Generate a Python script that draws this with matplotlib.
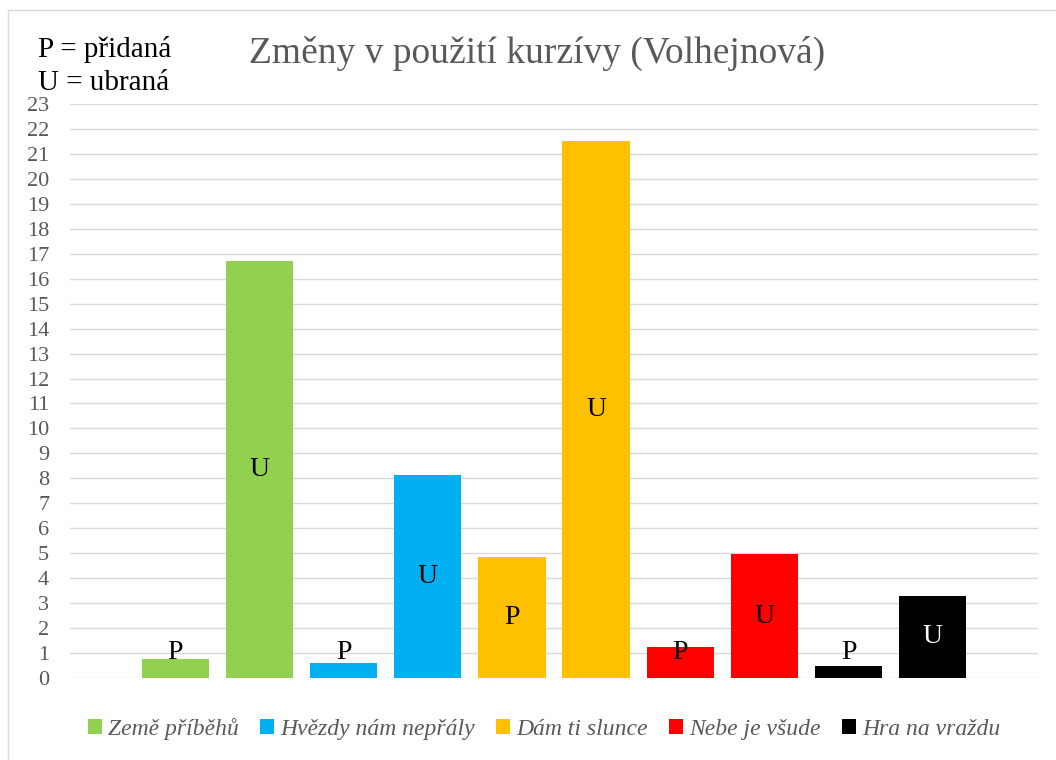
import matplotlib
matplotlib.use("Agg")
import matplotlib.pyplot as plt
from matplotlib.patches import Rectangle, Patch

books = ["Země příběhů", "Hvězdy nám nepřály", "Dám ti slunce", "Nebe je všude", "Hra na vraždu"]
pridana = [0.75, 0.6, 4.85, 1.25, 0.5]
ubrana = [16.7, 8.15, 21.5, 4.95, 3.3]
colors = ["#92D050", "#00B0F0", "#FFC000", "#FF0000", "#000000"]
yticks = list(range(0, 24))
title = "Změny v použití kurzívy (Volhejnová)"
note1 = "P = přidaná"
note2 = "U = ubraná"

serif = ["Liberation Serif", "DejaVu Serif"]
plt.rcParams['font.family'] = serif

W, H = 1056, 760
fig = plt.figure(figsize=(W / 100, H / 100), dpi=100)
fig.patch.set_facecolor("white")

# chart area border
fig.patches.append(Rectangle((8 / W, -0.05), 1.2, 1 - 10 / H + 0.05, transform=fig.transFigure,
                             fill=False, edgecolor="#D9D9D9", linewidth=1.0, zorder=0))

ax = fig.add_axes([70 / W, 1 - 678 / H, (1038 - 70) / W, (678 - 104) / H])
ax.set_ylim(0, 23)
ax.set_xlim(-1.25, 10.25)
ax.set_yticks(yticks)
ax.set_yticklabels([str(t) for t in yticks])
ax.tick_params(axis='y', length=0, labelsize=16, labelcolor="#595959", pad=15)
ax.tick_params(axis='x', length=0, labelbottom=False)
ax.grid(axis='y', color="#D9D9D9", linewidth=1.0)
ax.set_axisbelow(True)
for s in ax.spines.values():
    s.set_visible(False)

width = 0.8
for b, (name, p, u, c) in enumerate(zip(books, pridana, ubrana, colors)):
    for k, (v, lab) in enumerate([(p, "P"), (u, "U")]):
        x = 2 * b + k
        ax.bar(x, v, width=width, color=c, zorder=2)
        ypos = max(v / 2, 1.04)
        inside = v / 2 >= 1.04
        tc = "white" if (c == "#000000" and inside) else "black"
        ax.text(x, ypos, lab, ha="center", va="center", fontsize=20, color=tc, zorder=3)

fig.text(537 / W, 1 - 63 / H, title, ha="center", va="baseline", fontsize=27, color="#595959")
fig.text(38 / W, 1 - 57 / H, note1, ha="left", va="baseline", fontsize=21, color="black")
fig.text(38 / W, 1 - 90 / H, note2, ha="left", va="baseline", fontsize=21, color="black")

handles = [Patch(facecolor=c, edgecolor="none") for c in colors]
leg = fig.legend(handles, books, loc="center", bbox_to_anchor=(544 / W, 1 - 729 / H), ncol=5,
                 frameon=False, handlelength=0.6, handleheight=0.6, handletextpad=0.25,
                 columnspacing=0.9, prop={"family": serif, "style": "italic", "size": 17})
for t in leg.get_texts():
    t.set_color("#595959")

fig.savefig("out.png", dpi=100)
